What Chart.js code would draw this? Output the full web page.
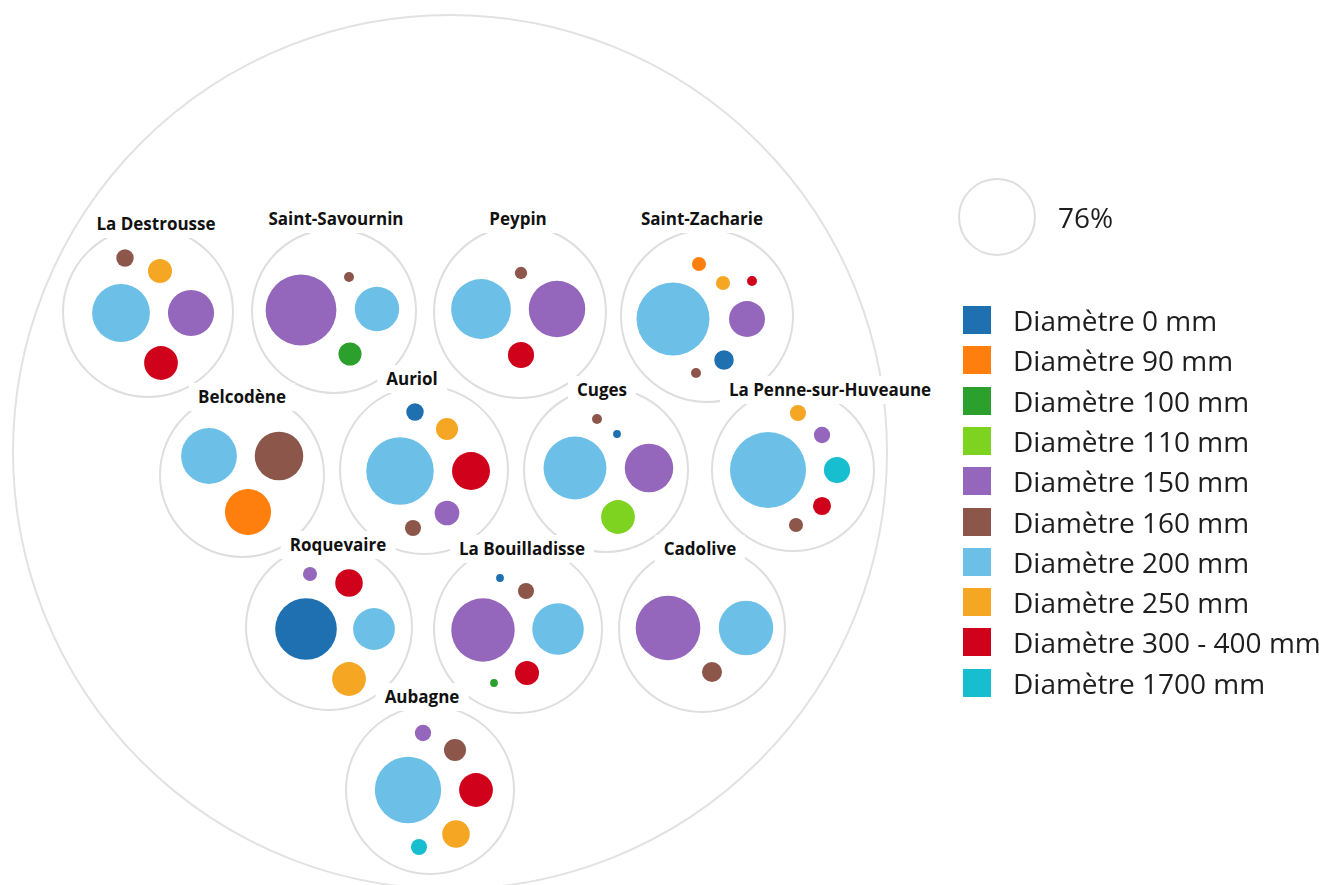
<!DOCTYPE html>
<html lang="fr">
<head>
<meta charset="utf-8">
<title>Diamètres par commune</title>
<script src="https://cdn.jsdelivr.net/npm/chart.js@4.4.1/dist/chart.umd.min.js"></script>
<style>
  html, body { margin: 0; padding: 0; background: #ffffff; }
  #wrap { position: relative; width: 1319px; height: 885px; overflow: hidden; }
  #c { position: absolute; left: 0; top: 0; }
  .lbl { position: absolute; transform: translate(-50%, -50%); background: #ffffff;
         font-family: "Open Sans", "DejaVu Sans", sans-serif; font-weight: 700; font-size: 17px;
         color: #111; padding: 3px 9px; line-height: 22px; white-space: nowrap; }
  #legend { position: absolute; left: 963px; top: 300px; font-family: "Open Sans", "DejaVu Sans", sans-serif; }
  .row { position: absolute; left: 0; height: 40px; display: flex; align-items: center; white-space: nowrap; }
  .sw { width: 28px; height: 28px; margin-right: 22px; }
  .tx { font-size: 28px; color: #1e1e1e; }
  #sizeText { position: absolute; left: 1058px; top: 216px; transform: translateY(-50%);
              font-family: "Open Sans", "DejaVu Sans", sans-serif; font-size: 28px; color: #1e1e1e; }
</style>
</head>
<body>
<div id="wrap">
  <canvas id="c" width="1319" height="885"></canvas>
  <div id="labels"></div>
  <div id="sizeText"></div>
  <div id="legend"></div>
</div>
<script>
// ---------------- DATA ----------------
const communes = ['La Destrousse', 'Saint-Savournin', 'Peypin', 'Saint-Zacharie',
  'Belcodène', 'Auriol', 'Cuges', 'La Penne-sur-Huveaune',
  'Roquevaire', 'La Bouilladisse', 'Cadolive', 'Aubagne'];

const diameters = ['Diamètre 0 mm', 'Diamètre 90 mm', 'Diamètre 100 mm', 'Diamètre 110 mm',
  'Diamètre 150 mm', 'Diamètre 160 mm', 'Diamètre 200 mm', 'Diamètre 250 mm',
  'Diamètre 300 - 400 mm', 'Diamètre 1700 mm'];

// share (%) of each diameter in each commune (null = absent)
//               Dest  SSav  Peyp  SZach Belc  Aur   Cuges Penne Roq   Bouil Cad   Aub
const d0    = [null, null, null, 5,    null, 4,    0.8,  null, 50,   0.8,  null, null];
const d90   = [null, null, null, 2.6,  28,   null, null, null, null, null, null, null];
const d100  = [null, 7,    null, null, null, null, null, null, null, 0.8,  null, null];
const d110  = [null, null, null, null, null, null, 15,   null, null, null, null, null];
const d150  = [28,   66,   42,   17,   null, 8,    31,   3.5,  2.6,  53,   55,   3.5];
const d160  = [4,    1.3,  2,    1.3,  31,   3.4,  1.3,  2.6,  null, 3.4,  5.3,  6.4];
const d200  = [44,   26,   47,   70,   41,   60,   52,   76,   23,   35,   39,   58];
const d250  = [7.6,  null, null, 2.6,  null, 6.4,  null, 3.4,  15,   null, null, 10];
const d300  = [15,   null, 9,    1.3,  null, 19,   null, 4.3,  10,   7.6,  null, 15];
const d1700 = [null, null, null, null, null, null, null, 9,    null, null, null, 3.4];
const seriesValues = [d0, d90, d100, d110, d150, d160, d200, d250, d300, d1700];

const sizeLegendValue = 76;   // "76%"

// ---------------- LAYOUT (positions / sizes, in reference pixel units) ----------------
const AREA_PER_PCT = 19;                       // px² of bubble area per percent
const outer = { x: 450, y: 452, r: 437 };
const groupCenter = [[148,312],[334,311],[520,312],[707,316],[242,475],[424,470],
                     [606,470],[793,470],[329,627],[518,629],[702,629],[430,790]];
const groupR = [85, 82, 86, 86, 82, 84, 82, 81, 83, 84, 83, 84];
const labelPos = [[156,224],[336,219],[518,219],[702,219],[242,397],[412,379],
                  [602,390],[830,390],[338,545],[522,549],[700,549],[422,697]];
const sizeLegendPos = [997, 217];
// offsets of each bubble from its commune's centre, per diameter
const off0    = [null, null, null, [17,44], null, [-9,-58], [11,-36], null, [-23,2], [-18,-51], null, null];
const off90   = [null, null, null, [-8,-52], [6,37], null, null, null, null, null, null, null];
const off100  = [null, [16,43], null, null, null, null, null, null, null, [-24,54], null, null];
const off110  = [null, null, null, null, null, null, [12,47], null, null, null, null, null];
const off150  = [[43,1], [-33,-1], [37,-3], [40,3], null, [23,43], [43,-2], [29,-35], [-19,-53], [-35,1], [-34,-1], [-7,-57]];
const off160  = [[-23,-54], [15,-34], [1,-39], [-11,57], [37,-19], [-11,58], [-9,-51], [3,55], null, [8,-38], [10,43], [25,-40]];
const off200  = [[-27,1], [43,-2], [-39,-3], [-34,3], [-33,-19], [-24,1], [-31,-2], [-25,0], [45,2], [40,0], [44,-1], [-22,0]];
const off250  = [[12,-41], null, null, [16,-33], null, [23,-41], null, [5,-57], [20,52], null, null, [26,44]];
const off300  = [[13,51], null, [1,43], [45,-35], null, [47,1], null, [29,36], [20,-44], [9,44], null, [46,0]];
const off1700 = [null, null, null, null, null, null, null, [44,0], null, null, null, [-11,57]];
const seriesOffsets = [off0, off90, off100, off110, off150, off160, off200, off250, off300, off1700];

// ---------------- STYLE ----------------
const colors = ['#1f70b0', '#ff7f0e', '#2ca02c', '#7ed321', '#9467bd',
                '#8c564b', '#6cc0e8', '#f5a623', '#d0021b', '#17becf'];
const ringColor = '#dedede';

// ---------------- BUILD ----------------
// bubble radius (px) from a percentage: area proportional to value
const radiusOf = v => Math.sqrt(v * AREA_PER_PCT);

const datasets = [];
seriesValues.forEach((vals, k) => {
  const pts = [];
  vals.forEach((v, i) => {
    if (v == null) return;
    const o = seriesOffsets[k][i];
    pts.push({ x: groupCenter[i][0] + o[0], y: groupCenter[i][1] + o[1], r: radiusOf(v), v: v, commune: communes[i] });
  });
  datasets.push({
    label: diameters[k], data: pts, order: 1,
    backgroundColor: colors[k], borderColor: colors[k], borderWidth: 0, clip: false
  });
});
// size legend bubble
datasets.push({
  label: 'taille', order: 2,
  data: [{ x: sizeLegendPos[0], y: sizeLegendPos[1], r: radiusOf(sizeLegendValue), v: sizeLegendValue }],
  backgroundColor: '#ffffff', borderColor: ringColor, borderWidth: 2, clip: false
});
// commune rings
datasets.push({
  label: 'communes', order: 2,
  data: communes.map((c, i) => ({ x: groupCenter[i][0], y: groupCenter[i][1], r: groupR[i], commune: c })),
  backgroundColor: '#ffffff', borderColor: ringColor, borderWidth: 2, clip: false
});
// outer ring
datasets.push({
  label: 'total', order: 3,
  data: [{ x: outer.x, y: outer.y, r: outer.r }],
  backgroundColor: '#ffffff', borderColor: '#e2e2e2', borderWidth: 2, clip: false
});

// HTML labels positioned through the chart scales
const labelsDiv = document.getElementById('labels');
const labelEls = communes.map(c => {
  const d = document.createElement('div');
  d.className = 'lbl'; d.textContent = c; labelsDiv.appendChild(d); return d;
});
const sizeText = document.getElementById('sizeText');
sizeText.textContent = sizeLegendValue + '%';

const labelPlugin = {
  id: 'htmlLabels',
  afterDraw(chart) {
    const xs = chart.scales.x, ys = chart.scales.y;
    labelEls.forEach((el, i) => {
      el.style.left = xs.getPixelForValue(labelPos[i][0]) + 'px';
      el.style.top = ys.getPixelForValue(labelPos[i][1]) + 'px';
    });
    sizeText.style.top = ys.getPixelForValue(sizeLegendPos[1]) + 'px';
  }
};

// HTML legend
const legend = document.getElementById('legend');
diameters.forEach((d, k) => {
  const row = document.createElement('div');
  row.className = 'row';
  row.style.top = (k * 40.3) + 'px';
  const sw = document.createElement('div'); sw.className = 'sw'; sw.style.background = colors[k];
  const tx = document.createElement('span'); tx.className = 'tx'; tx.textContent = d;
  row.appendChild(sw); row.appendChild(tx); legend.appendChild(row);
});

new Chart(document.getElementById('c'), {
  type: 'bubble',
  data: { datasets },
  plugins: [labelPlugin],
  options: {
    responsive: false, animation: false, devicePixelRatio: 1, events: [],
    layout: { padding: 0, autoPadding: false },
    plugins: { legend: { display: false }, tooltip: { enabled: false } },
    scales: {
      x: { type: 'linear', min: 0, max: 1319, display: false },
      y: { type: 'linear', min: 0, max: 885, reverse: true, display: false }
    }
  }
});
</script>
</body>
</html>
